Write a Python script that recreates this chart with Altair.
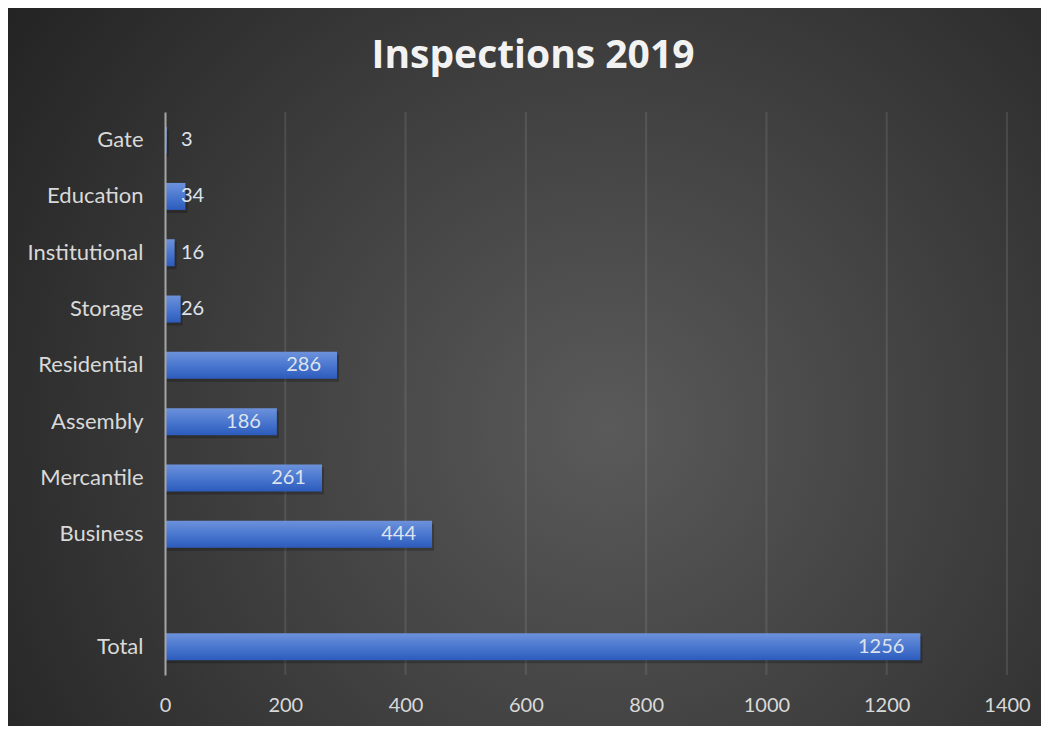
import altair as alt
import pandas as pd

chart_title = "Inspections 2019"
categories = ["Gate", "Education", "Institutional", "Storage", "Residential",
              "Assembly", "Mercantile", "Business", "Total"]
values = [3, 34, 16, 26, 286, 186, 261, 444, 1256]
axis_order = ["Gate", "Education", "Institutional", "Storage", "Residential",
              "Assembly", "Mercantile", "Business", " ", "Total"]
x_ticks = [0, 200, 400, 600, 800, 1000, 1200, 1400]
grid_ticks = [200, 400, 600, 800, 1000, 1200, 1400]

FONT = "Lato"
W, H = 842, 563
PL, PT, PR, PB = 157, 104, 34, 51

df = pd.DataFrame({"category": categories, "value": values})
df["zero"] = 0

yenc = alt.Y("category:N", scale=alt.Scale(domain=axis_order, paddingInner=0.52, paddingOuter=0.26),
             axis=alt.Axis(title=None, ticks=False, labelPadding=22, labelFontSize=22,
                           labelColor="#d9d9d9", labelFont=FONT, domainColor="#a6a6a6",
                           domainWidth=2, grid=False, zindex=1))
xscale = alt.Scale(domain=[0, 1400], nice=False)
xenc = alt.X("value:Q", scale=xscale,
             axis=alt.Axis(title=None, values=x_ticks, format="d", ticks=False, domain=False,
                           grid=False, labelPadding=20, labelFontSize=20, labelColor="#d9d9d9",
                           labelFont=FONT, zindex=1, labelFlush=False))

bg = alt.Chart(alt.Data(values=[{}])).mark_rect(
    fill={"gradient": "radial", "x1": 0.58, "y1": 0.56, "r1": 0, "x2": 0.58, "y2": 0.56, "r2": 0.7,
          "stops": [{"offset": 0, "color": "#5a5a5a"}, {"offset": 1, "color": "#242424"}]}
).encode(x=alt.value(-PL), x2=alt.value(W + PR), y=alt.value(-PT), y2=alt.value(H + PB))

title = alt.Chart(alt.Data(values=[{"t": chart_title}])).mark_text(
    font="Open Sans", fontSize=39, fontWeight="bold", color="#f2f2f2", align="center",
    baseline="alphabetic"
).encode(x=alt.value(368), y=alt.value(-44), text="t:N")

grid = alt.Chart(pd.DataFrame({"g": grid_ticks})).mark_rule(
    color="#ffffff", opacity=0.1, strokeWidth=2
).encode(x=alt.X("g:Q", scale=xscale))

shadow = alt.Chart(df).mark_bar(color="#000000", opacity=0.22, xOffset=2, yOffset=3).encode(
    x=xenc, y=yenc)

bars = alt.Chart(df).mark_bar(
    fill={"gradient": "linear", "x1": 0, "y1": 0, "x2": 0, "y2": 1,
          "stops": [{"offset": 0, "color": "#6d92db"}, {"offset": 0.5, "color": "#4a77cf"},
                    {"offset": 1, "color": "#2c5bbc"}]}
).encode(x=xenc, y=yenc)

big = alt.Chart(df).transform_filter("datum.value >= 100").mark_text(
    align="right", baseline="middle", dx=-16, fontSize=20, font=FONT, color="#dde3ee"
).encode(x=alt.X("value:Q", scale=xscale), y=alt.Y("category:N", scale=alt.Scale(domain=axis_order)),
         text="value:Q")

small = alt.Chart(df).transform_filter("datum.value < 100").mark_text(
    align="left", baseline="middle", dx=16, fontSize=20, font=FONT, color="#dde3ee"
).encode(x=alt.X("zero:Q", scale=xscale), y=alt.Y("category:N", scale=alt.Scale(domain=axis_order)),
         text="value:Q")

chart = alt.layer(bg, title, grid, shadow, bars, big, small).properties(
    width=W, height=H,
    autosize=alt.AutoSizeParams(type="none"),
    padding={"left": PL, "top": PT, "right": PR, "bottom": PB},
    background="#262626"
).configure_view(stroke=None)

chart.save("out.html", embed_options={"renderer": "svg", "actions": False})
